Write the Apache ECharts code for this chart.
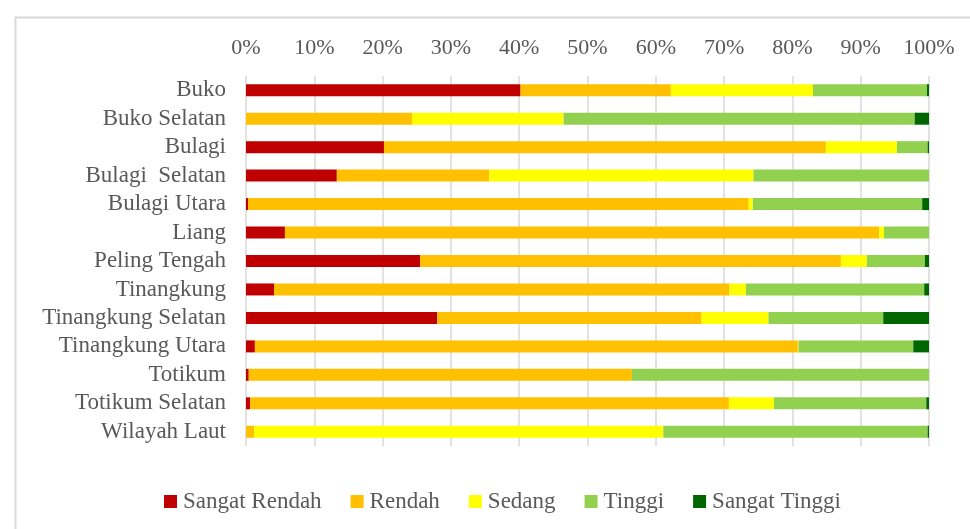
<!DOCTYPE html>
<html>
<head>
<meta charset="utf-8">
<script src="https://cdn.jsdelivr.net/npm/echarts@6/dist/echarts.min.js"></script>
<style>html,body{margin:0;padding:0;background:#fff}#c{width:970px;height:529px}</style>
</head>
<body>
<div id="c"></div>
<script>
const categories = ["Buko","Buko Selatan","Bulagi","Bulagi  Selatan","Bulagi Utara","Liang","Peling Tengah","Tinangkung","Tinangkung Selatan","Tinangkung Utara","Totikum","Totikum Selatan","Wilayah Laut"];
const tickLabels = ["0%","10%","20%","30%","40%","50%","60%","70%","80%","90%","100%"];
const seriesNames = ["Sangat Rendah","Rendah","Sedang","Tinggi","Sangat Tinggi"];
const sangatRendah = [40.2, 0, 20.2, 13.3, 0.3, 5.7, 25.5, 4.1, 28.0, 1.3, 0.4, 0.6, 0];
const rendah       = [22.0, 24.3, 64.7, 22.3, 73.3, 87.0, 61.6, 66.7, 38.7, 79.5, 56.1, 70.1, 1.2];
const sedang       = [20.8, 22.2, 10.4, 38.7, 0.6, 0.7, 3.8, 2.4, 9.8, 0.1, 0, 6.6, 59.9];
const tinggi       = [16.7, 51.4, 4.5, 25.7, 24.8, 6.6, 8.5, 26.1, 16.8, 16.8, 43.5, 22.3, 38.7];
const sangatTinggi = [0.3, 2.1, 0.2, 0, 1.0, 0, 0.6, 0.7, 6.7, 2.3, 0, 0.4, 0.2];
const colors = ["#C00000","#FFC000","#FFFF00","#92D050","#006600"];

const font = '"Liberation Serif", "Times New Roman", serif';
const chart = echarts.init(document.getElementById('c'), null, {renderer:'canvas'});
const dataSets = [sangatRendah, rendah, sedang, tinggi, sangatTinggi];
chart.setOption({
  animation:false,
  backgroundColor:'#fff',
  graphic:[{type:'rect', shape:{x:15.5,y:17.5,width:1000,height:600}, style:{fill:'none', stroke:'#d9d9d9', lineWidth:2}, silent:true}],
  grid:{left:246, right:41, top:76, bottom:83, containLabel:false},
  xAxis:{type:'value', position:'top', min:0, max:100, interval:10,
    axisLine:{show:false}, axisTick:{show:false},
    splitLine:{lineStyle:{color:'#d9d9d9', width:1.5}},
    axisLabel:{margin:17, color:'#595959', fontFamily:font, fontSize:22,
      formatter:(v)=>tickLabels[Math.round(v/10)]}},
  yAxis:{type:'category', inverse:true, data:categories,
    axisLine:{show:false}, axisTick:{show:false},
    axisLabel:{interval:0, margin:20, color:'#595959', fontFamily:font, fontSize:23}},
  legend:{top:485, left:159, itemWidth:13, itemHeight:13, itemGap:29,
    icon:'rect', textStyle:{color:'#595959', fontFamily:font, fontSize:23, padding:[0,0,0,1]},
    data:seriesNames},
  series: seriesNames.map((n,i)=>({name:n, type:'bar', stack:'t', barWidth:12,
    itemStyle:{color:colors[i]}, data:dataSets[i]}))
});
</script>
</body>
</html>
